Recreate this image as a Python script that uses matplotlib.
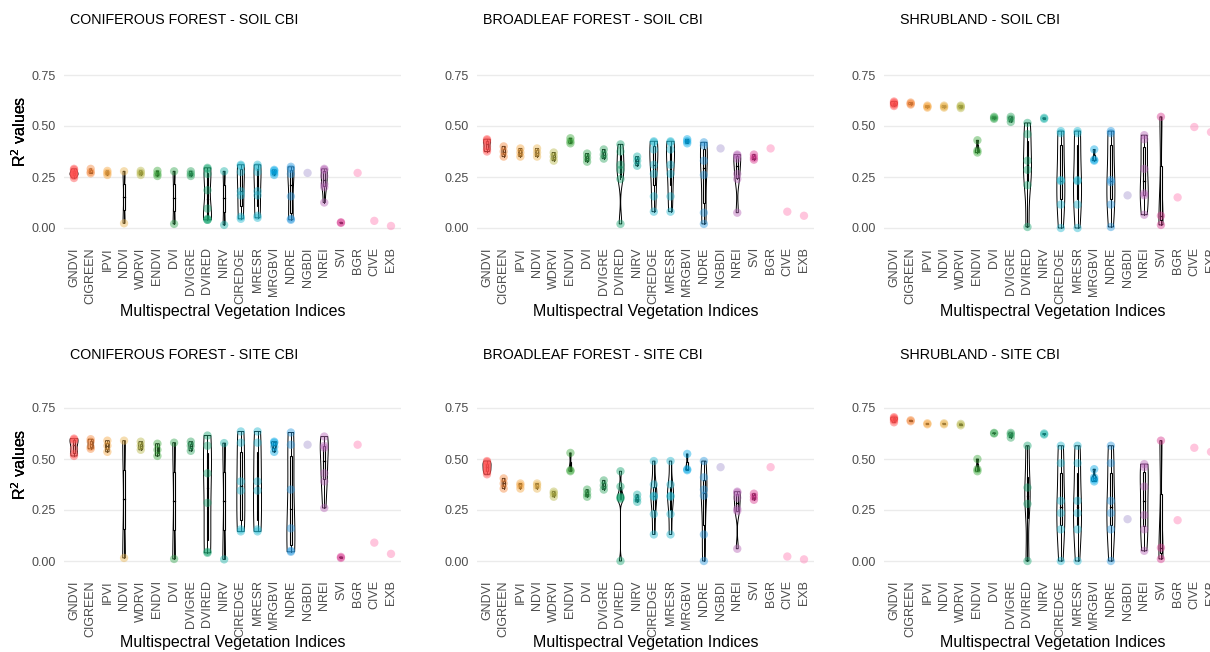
import numpy as np
import matplotlib
matplotlib.use("Agg")
import matplotlib.pyplot as plt
from matplotlib.patches import Rectangle, Polygon

plt.rcParams["font.family"] = ["Liberation Sans", "DejaVu Sans"]

indices = ["GNDVI", "CIGREEN", "IPVI", "NDVI", "WDRVI", "ENDVI", "DVI", "DVIGRE",
           "DVIRED", "NIRV", "CIREDGE", "MRESR", "MRGBVI", "NDRE", "NGBDI", "NREI",
           "SVI", "BGR", "CIVE", "EXB"]

index_colors = ["#FF4F4F", "#F5893E", "#F6A844", "#E9B550", "#B8B84A", "#3FAA3F",
                "#37A852", "#2FA561", "#1CA874", "#1BB2A8", "#25B8D0", "#25B8D0",
                "#06A9E6", "#2E9BDF", "#A99BD2", "#B665B6", "#D8388F", "#FF80B5",
                "#FF80B5", "#FF80B5"]

panel_titles = ["CONIFEROUS FOREST - SOIL CBI", "BROADLEAF FOREST - SOIL CBI",
                "SHRUBLAND - SOIL CBI", "CONIFEROUS FOREST - SITE CBI",
                "BROADLEAF FOREST - SITE CBI", "SHRUBLAND - SITE CBI"]

y_ticks = [0.00, 0.25, 0.50, 0.75]
y_tick_labels = ["0.00", "0.25", "0.50", "0.75"]

# R² values per index (same order as `indices`)
conifer_soil = [
    [0.245, 0.255, 0.26, 0.265, 0.27, 0.275, 0.285, 0.29],
    [0.268, 0.275, 0.29],
    [0.26, 0.27, 0.28],
    [0.023, 0.278],
    [0.26, 0.27, 0.28],
    [0.255, 0.265, 0.28],
    [0.02, 0.278],
    [0.255, 0.265, 0.278],
    [0.04, 0.04, 0.045, 0.095, 0.185, 0.265, 0.29, 0.295],
    [0.015, 0.278],
    [0.045, 0.055, 0.16, 0.18, 0.275, 0.305, 0.31],
    [0.05, 0.06, 0.16, 0.18, 0.275, 0.30, 0.31],
    [0.26, 0.27, 0.28, 0.285],
    [0.04, 0.045, 0.155, 0.265, 0.29, 0.30],
    [0.27],
    [0.125, 0.20, 0.215, 0.255, 0.285, 0.29],
    [0.025, 0.028],
    [0.27],
    [0.035],
    [0.01],
]

broadleaf_soil = [
    [0.375, 0.385, 0.40, 0.42, 0.43, 0.435],
    [0.35, 0.375, 0.40],
    [0.35, 0.37, 0.39],
    [0.35, 0.37, 0.39],
    [0.33, 0.35, 0.37],
    [0.415, 0.425, 0.44],
    [0.325, 0.345, 0.365],
    [0.34, 0.36, 0.385],
    [0.02, 0.24, 0.285, 0.31, 0.375, 0.41],
    [0.305, 0.33, 0.35],
    [0.08, 0.155, 0.265, 0.31, 0.385, 0.42, 0.425],
    [0.08, 0.155, 0.265, 0.31, 0.385, 0.42, 0.425],
    [0.415, 0.425, 0.435],
    [0.02, 0.075, 0.26, 0.33, 0.405, 0.42],
    [0.39],
    [0.075, 0.24, 0.265, 0.34, 0.355, 0.36],
    [0.335, 0.345, 0.36],
    [0.39],
    [0.08],
    [0.06],
]

shrub_soil = [
    [0.598, 0.605, 0.61, 0.615, 0.62],
    [0.605, 0.61, 0.615],
    [0.59, 0.595, 0.60],
    [0.59, 0.595, 0.60],
    [0.588, 0.595, 0.60],
    [0.37, 0.38, 0.43],
    [0.535, 0.54, 0.545],
    [0.52, 0.535, 0.545],
    [0.005, 0.21, 0.285, 0.33, 0.46, 0.515],
    [0.535, 0.54],
    [0.0, 0.115, 0.23, 0.235, 0.465, 0.475],
    [0.0, 0.115, 0.23, 0.235, 0.465, 0.475],
    [0.33, 0.335, 0.385],
    [0.005, 0.115, 0.225, 0.235, 0.465, 0.475],
    [0.16],
    [0.065, 0.16, 0.17, 0.29, 0.435, 0.455],
    [0.015, 0.06, 0.545],
    [0.15],
    [0.495],
    [0.47],
]

conifer_site = [
    [0.515, 0.525, 0.55, 0.585, 0.595, 0.60],
    [0.55, 0.56, 0.585, 0.597],
    [0.535, 0.565, 0.59],
    [0.015, 0.59],
    [0.545, 0.565, 0.585],
    [0.515, 0.545, 0.575],
    [0.01, 0.58],
    [0.54, 0.565, 0.585],
    [0.04, 0.045, 0.285, 0.43, 0.565, 0.615],
    [0.008, 0.578],
    [0.145, 0.155, 0.345, 0.39, 0.58, 0.635],
    [0.145, 0.155, 0.345, 0.39, 0.58, 0.635],
    [0.535, 0.56, 0.58, 0.585],
    [0.045, 0.05, 0.16, 0.35, 0.57, 0.63],
    [0.57],
    [0.26, 0.39, 0.43, 0.555, 0.565, 0.61],
    [0.015, 0.02],
    [0.57],
    [0.09],
    [0.035],
]

broadleaf_site = [
    [0.425, 0.435, 0.445, 0.455, 0.465, 0.475, 0.485, 0.49],
    [0.355, 0.38, 0.405],
    [0.355, 0.37, 0.38],
    [0.355, 0.37, 0.38],
    [0.315, 0.33, 0.34],
    [0.44, 0.445, 0.53],
    [0.315, 0.33, 0.35],
    [0.35, 0.37, 0.395],
    [0.0, 0.305, 0.31, 0.315, 0.365, 0.44],
    [0.29, 0.305, 0.325],
    [0.13, 0.23, 0.315, 0.32, 0.375, 0.49],
    [0.13, 0.23, 0.315, 0.32, 0.375, 0.49],
    [0.445, 0.45, 0.525],
    [0.0, 0.13, 0.32, 0.35, 0.41, 0.49],
    [0.46],
    [0.06, 0.245, 0.255, 0.31, 0.335, 0.34],
    [0.30, 0.315, 0.33],
    [0.46],
    [0.022],
    [0.008],
]

shrub_site = [
    [0.68, 0.69, 0.695, 0.70, 0.705],
    [0.685, 0.69],
    [0.67, 0.675],
    [0.67, 0.675],
    [0.665, 0.672],
    [0.44, 0.45, 0.50],
    [0.625, 0.628],
    [0.605, 0.62, 0.628],
    [0.0, 0.28, 0.36, 0.565],
    [0.62, 0.625],
    [0.0, 0.155, 0.235, 0.295, 0.48, 0.565],
    [0.0, 0.155, 0.235, 0.295, 0.48, 0.565],
    [0.39, 0.40, 0.41, 0.45],
    [0.0, 0.155, 0.235, 0.295, 0.48, 0.565],
    [0.205],
    [0.05, 0.155, 0.225, 0.365, 0.46, 0.475],
    [0.01, 0.065, 0.59],
    [0.20],
    [0.555],
    [0.535],
]

panel_data = [conifer_soil, broadleaf_soil, shrub_soil,
              conifer_site, broadleaf_site, shrub_site]


def bw_nrd0(v):
    v = np.asarray(v, dtype=float)
    sd = v.std(ddof=1)
    q75, q25 = np.percentile(v, [75, 25])
    lo = min(sd, (q75 - q25) / 1.34)
    if lo <= 0:
        lo = sd if sd > 0 else (abs(v[0]) if v[0] != 0 else 1.0)
    return 0.9 * lo * len(v) ** -0.2


def draw_violin(ax, x, v, scale):
    v = np.asarray(v, dtype=float)
    bw = bw_nrd0(v)
    ys = np.linspace(v.min(), v.max(), 256)
    dens = np.exp(-0.5 * ((ys[:, None] - v[None, :]) / bw) ** 2).sum(axis=1)
    hw = scale * dens / dens.max()
    xs = np.concatenate([x - hw, (x + hw)[::-1]])
    yy = np.concatenate([ys, ys[::-1]])
    ax.add_patch(Polygon(np.column_stack([xs, yy]), closed=True, facecolor="white",
                         edgecolor="black", linewidth=0.7, zorder=2))


def draw_box(ax, x, v, width=0.11):
    v = np.asarray(v, dtype=float)
    q1, med, q3 = np.percentile(v, [25, 50, 75])
    iqr = q3 - q1
    lo = v[v >= q1 - 1.5 * iqr].min()
    hi = v[v <= q3 + 1.5 * iqr].max()
    ax.plot([x, x], [lo, q1], color="black", lw=0.7, zorder=3)
    ax.plot([x, x], [q3, hi], color="black", lw=0.7, zorder=3)
    ax.add_patch(Rectangle((x - width / 2, q1), width, q3 - q1, facecolor="white",
                           edgecolor="black", linewidth=0.8, zorder=3))
    ax.plot([x - width / 2, x + width / 2], [med, med], color="black", lw=0.9, zorder=3)


W, H = 1210, 652
fig = plt.figure(figsize=(W / 100, H / 100), dpi=100)

ylim = (-0.04, 0.78)
px_per_unit = 204.0
zero_rows = [228.0, 561.0]
lefts = [64.0, 477.0, 884.0]
ax_width = 337.0
title_y = [20.0, 355.0]
title_x = [70.0, 483.0, 900.0]
xtitle_y = [311.0, 643.0]

for k, (title, data) in enumerate(zip(panel_titles, panel_data)):
    row, col = divmod(k, 3)
    top_px = zero_rows[row] - ylim[1] * px_per_unit
    bot_px = zero_rows[row] - ylim[0] * px_per_unit
    ax = fig.add_axes([lefts[col] / W, 1 - bot_px / H, ax_width / W, (bot_px - top_px) / H])
    ax.set_xlim(-0.6, len(indices) - 0.4)
    ax.set_ylim(*ylim)
    for s in ax.spines.values():
        s.set_visible(False)
    ax.set_yticks(y_ticks)
    ax.set_yticklabels(y_tick_labels)
    ax.set_xticks(range(len(indices)))
    ax.set_xticklabels(indices, rotation=90)
    ax.tick_params(axis="both", length=0, labelsize=9, labelcolor="#4D4D4D")
    ax.tick_params(axis="y", pad=6)
    ax.tick_params(axis="x", pad=8)
    for yt in y_ticks:
        ax.axhline(yt, color="#EBEBEB", lw=1.0, zorder=0)

    nmax = max(len(v) for v in data)
    for i, v in enumerate(data):
        if len(v) >= 2:
            draw_violin(ax, i, v, 0.24 * len(v) / nmax)
            draw_box(ax, i, v)
        ax.scatter(np.full(len(v), i), v, s=36, color=index_colors[i], alpha=0.45,
                   edgecolors="none", zorder=4)

    ax.set_xlabel("Multispectral Vegetation Indices", fontsize=11.5, color="black")
    ax.xaxis.set_label_coords(0.5, (bot_px - xtitle_y[row]) / (bot_px - top_px))
    ax.xaxis.label.set_va("center")
    ax.set_ylabel("R$^2$ values", fontsize=11.5, color="black")
    ax.yaxis.set_label_coords((20.0 - lefts[col]) / ax_width,
                              (bot_px - (zero_rows[row] - 97.0)) / (bot_px - top_px))
    ax.yaxis.label.set_va("center")

    fig.text(title_x[col] / W, 1 - title_y[row] / H, title, fontsize=10.3,
             ha="left", va="center", color="black")

fig.savefig("out.png", dpi=100)
